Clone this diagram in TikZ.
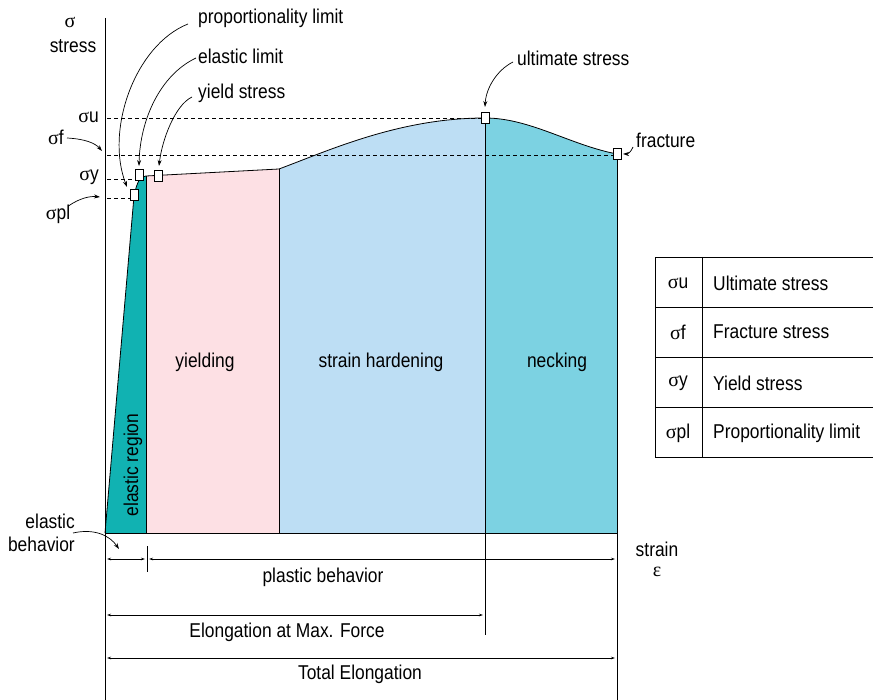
\documentclass[tikz,border=0pt]{standalone}
\usepackage{fontspec}
\setmainfont[FakeStretch=0.87]{Liberation Sans}
\newfontfamily\grk{Liberation Serif}
\usetikzlibrary{arrows.meta}
\definecolor{cteal}{RGB}{17,178,178}
\definecolor{cpink}{RGB}{253,224,228}
\definecolor{cblue}{RGB}{189,222,244}
\definecolor{cneck}{RGB}{124,210,226}
\newcommand\sg{{\grk σ}}
\begin{document}
\begin{tikzpicture}[x=1pt,y=-1pt,font=\fontsize{20}{23}\selectfont,
  ptbox/.style={draw,fill=white,minimum width=8pt,minimum height=11pt,inner sep=0pt,line width=0.8pt},
  lbl/.style={inner sep=0pt,anchor=west},
  ctr/.style={inner sep=0pt},
  arr/.style={-{Stealth[length=6pt,width=4pt]},line width=0.7pt},
  dim/.style={{Stealth[length=4pt,width=2.5pt]}-{Stealth[length=4pt,width=2.5pt]},line width=0.7pt},
  dashline/.style={dash pattern=on 4pt off 3pt,line width=0.8pt},
  edge/.style={line width=0.8pt}]
\useasboundingbox (0,0) rectangle (873,700);
% regions
\fill[cteal] (105,533) -- (134,196) .. controls (137,182) and (140,176) .. (146,176) -- (146,533) -- cycle;
\fill[cpink] (146,533) -- (146,176) -- (279,169) -- (279,533) -- cycle;
\fill[cblue] (279,533) -- (279,169) .. controls (330,150) and (400,118) .. (485,118) -- (485,533) -- cycle;
\fill[cneck] (485,533) -- (485,118) .. controls (530,118) and (570,145) .. (617,154) -- (617,533) -- cycle;
% outlines
\draw[edge] (105,533) -- (134,196) .. controls (137,182) and (140,176) .. (146,176) -- (279,169) .. controls (330,150) and (400,118) .. (485,118) .. controls (530,118) and (570,145) .. (617,154);
\draw[edge] (146,176) -- (146,533);
\draw[edge] (279,169) -- (279,533);
\draw[edge] (485,118) -- (485,635);
\draw[edge] (617,154) -- (617,700);
\draw[edge] (105,533) -- (617,533);
\draw[edge] (105,18) -- (105,700);
\draw[edge] (147,546) -- (147,572);
% dashed levels
\draw[dashline] (107,118) -- (485,118);
\draw[dashline] (107,155) -- (617,155);
\draw[dashline] (107,179) -- (135,179);
\draw[dashline] (107,198) -- (130,198);
% point boxes
\node[ptbox] (bpl) at (134,195) {};
\node[ptbox] (bel) at (139,175) {};
\node[ptbox] (bys) at (158,176) {};
\node[ptbox] (bus) at (485,118) {};
\node[ptbox] (bfr) at (617,154) {};
% axis labels
\node[ctr] (sigma) at (70,22) {\sg};
\node[ctr] (stress) at (73,46) {stress};
\node[ctr] (strain) at (657,549) {strain};
\node[ctr] (eps) at (657,572) {{\grk ε}};
\node[ctr,anchor=east] (su) at (99,117) {\sg u};
\node[ctr] (sf) at (56,137) {\sg f};
\node[ctr,anchor=east] (sy) at (99,177) {\sg y};
\node[ctr] (spl) at (58,214) {\sg pl};
% top labels
\node[lbl] (prop) at (198,18) {proportionality limit};
\node[lbl] (elim) at (198,56) {elastic limit};
\node[lbl] (ystr) at (198,93) {yield stress};
\node[lbl] (ult) at (517,58) {ultimate stress};
\node[lbl] (frac) at (636,140) {fracture};
\coordinate (tpl) at (127,187);
\coordinate (tel) at (139,166);
\coordinate (tys) at (159,166);
\coordinate (tus) at (485,107);
\coordinate (tfr) at (623,154);
\coordinate (tsf) at (102,151);
\coordinate (tspl) at (100,197);
\draw[arr] (prop.west) ++(-10,6) .. controls (135,45) and (105,130) .. (tpl);
\draw[arr] (elim.west) ++(-2,2) .. controls (160,75) and (140,120) .. (tel);
\draw[arr] (ystr.west) ++(-6,4) .. controls (175,105) and (162,140) .. (tys);
\draw[arr] (ult.west) ++(-4,4) .. controls (497,70) and (486,88) .. (tus);
\draw[arr] (frac.west) ++(-3,7) .. controls (631,152) and (628,154) .. (tfr);
\draw[arr] (sf.east) ++(3,1) .. controls (85,139) and (95,143) .. (tsf);
\draw[arr] (spl.east) ++(-2,-8) .. controls (80,198) and (90,196) .. (tspl);
% region labels
\node[ctr] (yld) at (205,362) {yielding};
\node[ctr] (shd) at (381,362) {strain hardening};
\node[ctr] (nck) at (557,362) {necking};
\node[ctr,rotate=90] (elr) at (133,465) {elastic region};
% elastic behavior
\node[ctr,align=right,anchor=east] (ebh) at (75,533) {elastic\\behavior};
\coordinate (teb) at (119,549);
\draw[arr] (ebh.east) ++(-2,0) .. controls (95,528) and (110,536) .. (teb);
% dimension lines
\coordinate (d1a) at (107,559); \coordinate (d1b) at (145,559);
\coordinate (d2a) at (149,559); \coordinate (d2b) at (615,559);
\coordinate (d3a) at (107,615); \coordinate (d3b) at (483,615);
\coordinate (d4a) at (107,658); \coordinate (d4b) at (615,658);
\draw[dim] (d1a) -- (d1b);
\draw[dim] (d2a) -- (d2b);
\draw[dim] (d3a) -- (d3b);
\draw[dim] (d4a) -- (d4b);
\node[ctr] (pb) at (323,577) {plastic behavior};
\node[ctr] (emf) at (287,632) {Elongation at Max. Force};
\node[ctr] (tel2) at (360,674) {Total Elongation};
% table
\draw[edge] (873,257) -- (655,257) -- (655,457) -- (873,457);
\draw[edge] (655,307) -- (873,307);
\draw[edge] (655,357) -- (873,357);
\draw[edge] (655,407) -- (873,407);
\draw[edge] (702,257) -- (702,457);
\node[ctr] (t1s) at (678,283) {\sg u};
\node[ctr] (t2s) at (678,332) {\sg f};
\node[ctr] (t3s) at (678,383) {\sg y};
\node[ctr] (t4s) at (678,433) {\sg pl};
\node[lbl] (t1) at (713,283) {Ultimate stress};
\node[lbl] (t2) at (713,332) {Fracture stress};
\node[lbl] (t3) at (713,383) {Yield stress};
\node[lbl] (t4) at (713,433) {Proportionality limit};
\end{tikzpicture}
\end{document}
